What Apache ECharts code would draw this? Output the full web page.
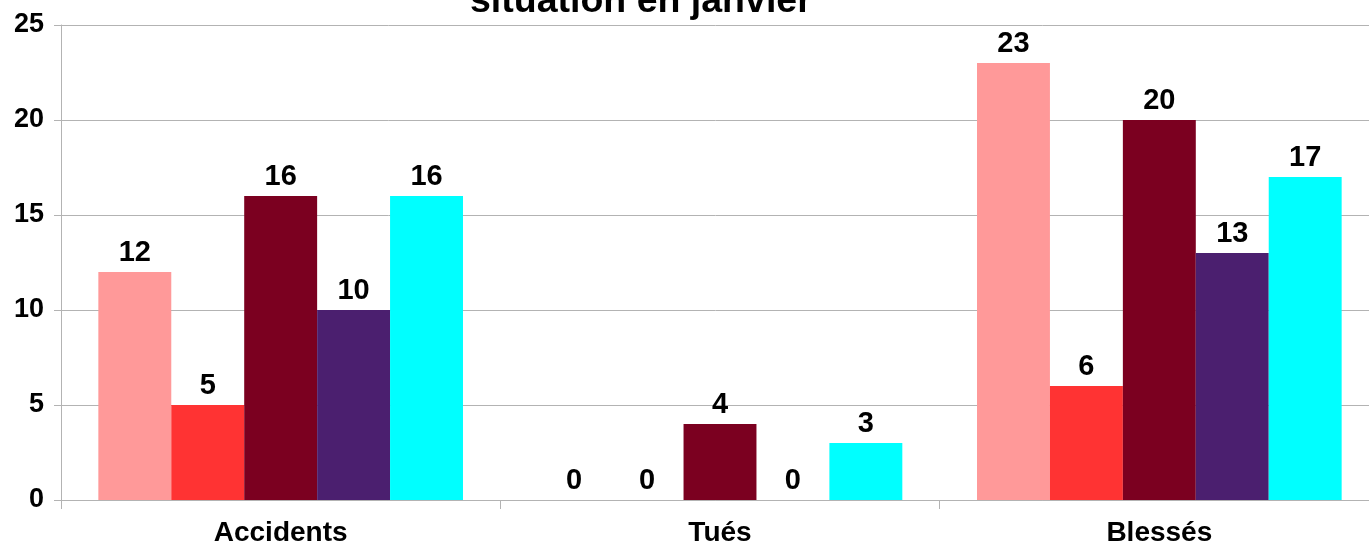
<!DOCTYPE html>
<html><head><meta charset="utf-8">
<script src="https://cdn.jsdelivr.net/npm/echarts@6/dist/echarts.min.js"></script>
<style>html,body{margin:0;padding:0;background:#fff}#c{width:1369px;height:544px}</style>
</head><body><div id="c"></div>
<script>
const categories = ['Accidents', 'Tués', 'Blessés'];
const s1 = [12, 0, 23];
const s2 = [5, 0, 6];
const s3 = [16, 4, 20];
const s4 = [10, 0, 13];
const s5 = [16, 3, 17];
const colors = ['#ff9999', '#ff3333', '#7b0020', '#4b1f6f', '#00ffff'];
const seriesData = [s1, s2, s3, s4, s5];
const chart = echarts.init(document.getElementById('c'));
const font = 'Liberation Sans';
chart.setOption({
  animation: false,
  title: {text: 'situation en janvier', left: 465, top: -22,
    textStyle: {fontFamily: font, fontWeight: 'bold', fontSize: 37.5, color: '#000'}},
  grid: {left: 61, right: -10, top: 25, bottom: 44, outerBoundsMode: 'none', containLabel: false},
  xAxis: {type: 'category', data: categories,
    axisLine: {lineStyle: {color: '#b3b3b3', width: 1}},
    axisTick: {show: true, length: 9, lineStyle: {color: '#b3b3b3'}},
    axisLabel: {fontFamily: font, fontWeight: 'bold', fontSize: 28, color: '#000', margin: 19}},
  yAxis: {type: 'value', min: 0, max: 25, interval: 5,
    axisLine: {show: true, lineStyle: {color: '#b3b3b3'}},
    axisTick: {show: true, length: 7, lineStyle: {color: '#b3b3b3'}},
    splitLine: {lineStyle: {color: '#b3b3b3'}},
    axisLabel: {fontFamily: font, fontWeight: 'bold', fontSize: 27, color: '#000', margin: 17}},
  series: seriesData.map((d, i) => ({
    type: 'bar', data: d, barGap: '0%', barCategoryGap: '17%',
    itemStyle: {color: colors[i]},
    label: {show: true, position: 'top', distance: 5, fontFamily: font, fontWeight: 'bold', fontSize: 29, color: '#000'}
  }))
});
</script></body></html>
